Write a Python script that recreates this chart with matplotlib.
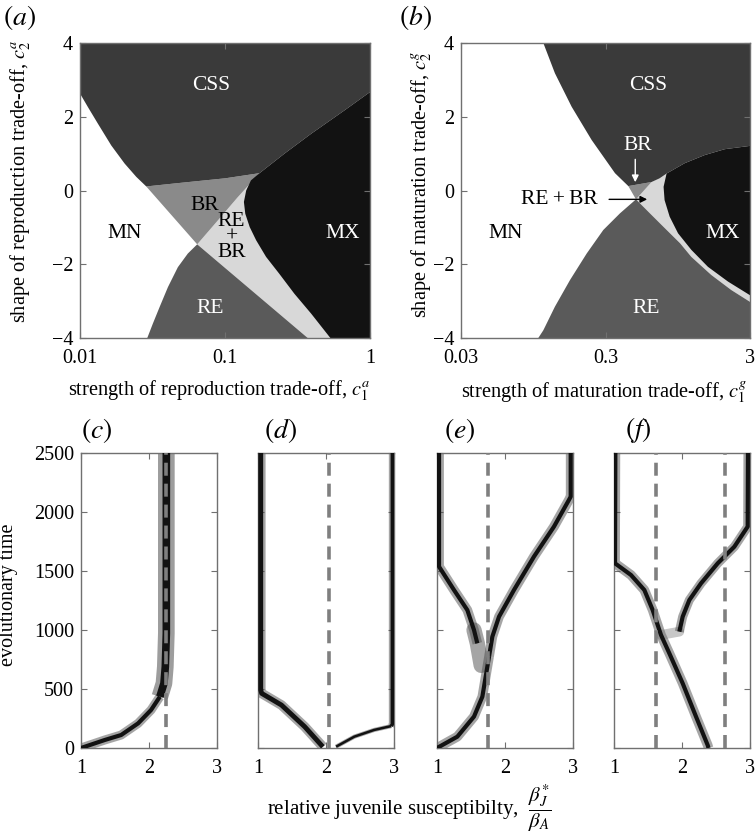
# -*- coding: utf-8 -*-
# trade-off regions and evolutionary branching panels

import numpy as np
import matplotlib
matplotlib.use('Agg')
import matplotlib.pyplot as plt
from matplotlib.ticker import FixedLocator, NullLocator


#%% Data

# panel (a): region boundaries in (c1, c2), c1 on a log axis
A_MN_CSS_X = [0.01, 0.01135, 0.0133, 0.01644, 0.02032, 0.02444, 0.02864]
A_MN_CSS_Y = [2.63, 2.26, 1.81, 1.22, 0.73, 0.37, 0.11]
A_CSS_BOT_X = [0.02864, 0.0473, 0.1, 0.173]
A_CSS_BOT_Y = [0.11, 0.20, 0.33, 0.47]
A_CSS_MX_X = [0.173, 0.257, 0.393, 0.665, 1.0]
A_CSS_MX_Y = [0.47, 1.0, 1.54, 2.17, 2.67]
A_MX_X = [0.173, 0.151, 0.140, 0.135, 0.138, 0.148, 0.164, 0.192, 0.237,
          0.301, 0.393, 0.533]
A_MX_Y = [0.47, 0.275, 0.0, -0.31, -0.63, -0.99, -1.35, -1.80, -2.26,
          -2.80, -3.34, -4.0]
A_BR_LIGHT_X = [0.0643, 0.0893, 0.1225, 0.173]
A_BR_LIGHT_Y = [-1.46, -0.81, -0.18, 0.47]
A_RE_LIGHT_X = [0.0643, 0.372]
A_RE_LIGHT_Y = [-1.46, -4.0]
A_MN_RE_X = [0.0643, 0.0554, 0.0473, 0.0404, 0.0354, 0.0318, 0.0291]
A_MN_RE_Y = [-1.46, -1.71, -2.08, -2.62, -3.16, -3.61, -4.0]

# panel (b)
B_MN_CSS_X = [0.1114, 0.134, 0.175, 0.2405, 0.349, 0.4315]
B_MN_CSS_Y = [4.0, 3.18, 2.27, 1.37, 0.47, 0.12]
B_CSS_BOT_X = [0.4315, 0.625, 0.71, 0.794]
B_CSS_BOT_Y = [0.12, 0.23, 0.33, 0.46]
B_CSS_MX_X = [0.794, 1.059, 1.455, 2.004, 3.0]
B_CSS_MX_Y = [0.46, 0.74, 0.96, 1.12, 1.21]
B_MX_X = [0.794, 0.757, 0.769, 0.834, 0.953, 1.178, 1.535, 2.113, 3.0]
B_MX_Y = [0.46, 0.10, -0.26, -0.71, -1.16, -1.61, -2.07, -2.47, -2.84]
B_BR_LIGHT_X = [0.4875, 0.625, 0.71, 0.794]
B_BR_LIGHT_Y = [-0.24, 0.23, 0.33, 0.46]
B_RE_LIGHT_X = [0.4875, 0.609, 0.753, 0.984, 1.178, 1.618, 2.228, 3.0]
B_RE_LIGHT_Y = [-0.24, -0.62, -0.98, -1.43, -1.80, -2.29, -2.70, -3.02]
B_MN_RE_X = [0.4875, 0.3776, 0.2897, 0.2222, 0.1703, 0.134, 0.1114, 0.1028]
B_MN_RE_Y = [-0.24, -0.62, -1.07, -1.71, -2.43, -3.15, -3.79, -4.0]

# panels (c)-(f): trait paths (relative susceptibility, evolutionary time)
C_X = [1.0, 1.35, 1.59, 1.84, 2.03, 2.16, 2.22, 2.24, 2.255, 2.255]
C_T = [0, 68, 110, 209, 322, 435, 548, 689, 972, 2500]
C_SINGULAR = [2.255]

D_LEFT_X = [1.954, 1.686, 1.345, 1.054, 1.04, 1.04]
D_LEFT_T = [10, 181, 364, 463, 492, 2500]
D_RIGHT_X = [2.148, 2.416, 2.708, 2.96, 2.975, 2.975]
D_RIGHT_T = [11, 96, 153, 186, 200, 2500]
D_SINGULAR = [2.04]

E_TRUNK_X = [1.0, 1.299, 1.544, 1.667, 1.716, 1.765]
E_TRUNK_T = [0, 96, 266, 435, 605, 774]
E_LEFT_X = [1.65, 1.593, 1.544, 1.446, 1.25, 1.03, 1.03]
E_LEFT_T = [700, 887, 1000, 1169, 1339, 1537, 2500]
E_RIGHT_X = [1.765, 1.814, 1.912, 2.132, 2.426, 2.72, 2.94, 2.966, 2.966]
E_RIGHT_T = [774, 944, 1113, 1339, 1622, 1876, 2102, 2130, 2500]
E_SINGULAR = [1.755]

F_MAIN_X = [2.39, 2.377, 2.206, 2.01, 1.814, 1.691, 1.569, 1.446, 1.25,
            1.015, 1.02]
F_MAIN_T = [0, 25, 266, 548, 802, 958, 1169, 1339, 1466, 1565, 2500]
F_RIGHT_X = [1.961, 2.01, 2.108, 2.279, 2.525, 2.77, 2.966, 2.97]
F_RIGHT_T = [986, 1113, 1254, 1395, 1565, 1706, 1876, 2500]
F_SINGULAR = [1.618, 2.632]


#%% Style

plt.rcParams['font.family'] = ['Liberation Serif', 'DejaVu Serif']
plt.rcParams['mathtext.fontset'] = 'stix'

SPINE = '#707070'
COL_CSS = '#3a3a3a'
COL_MX = '#121212'
COL_RE = '#5a5a5a'
COL_BR = '#8a8a8a'
COL_LIGHT = '#d8d8d8'
DASH = '#7f7f7f'

TICK_FS = 14.5
LABEL_FS = 14.7
BOTTOM_LABEL_FS = 15
PANEL_FS = 20
REGION_FS = 15.5


def style_axes(ax):
    for s in ax.spines.values():
        s.set_color(SPINE)
        s.set_linewidth(1.0)
    ax.tick_params(direction='in', length=4, width=0.8, color=SPINE,
                   top=True, right=True, labelsize=TICK_FS, pad=5)
    ax.tick_params(axis='x', pad=8)
    ax.tick_params(which='minor', length=0)


def pts(xs, ys):
    return list(zip(xs, ys))


def draw_regions(ax, mn_css, css_bot, css_mx, mx, br_light, re_light,
                 mn_re, re_extra, xlim):
    xmin, xmax = xlim
    light = (br_light + [(xmax, 4), (xmax, -4)] + re_light[::-1])
    re = mn_re + re_extra + re_light[::-1]
    br = css_bot + br_light[::-1]
    mxp = mx + [(xmax, mx[-1][1])] + css_mx[::-1]
    css = ([(xmax, 4)] + css_mx[::-1] + css_bot[::-1] + mn_css[::-1]
           + [(xmin, 4)])
    for poly, col in [(light, COL_LIGHT), (re, COL_RE), (br, COL_BR),
                      (mxp, COL_MX), (css, COL_CSS)]:
        x, y = zip(*poly)
        ax.fill(x, y, color=col, lw=0, zorder=1)
    ax.set_xscale('log')
    ax.set_xlim(xmin, xmax)
    ax.set_ylim(-4, 4)
    ax.yaxis.set_major_locator(FixedLocator([-4, -2, 0, 2, 4]))
    ax.set_yticklabels(['\u22124', '\u22122', '0', '2', '4'])
    ax.xaxis.set_minor_locator(NullLocator())


def draw_trace(ax, x, t, core=3.0, halo=6.5, halo_alpha=0.5):
    ax.plot(x, t, color='0.3', lw=halo, alpha=halo_alpha,
            solid_capstyle='butt', solid_joinstyle='round', zorder=2)
    ax.plot(x, t, color='0.07', lw=core, solid_capstyle='butt',
            solid_joinstyle='round', zorder=3)


def draw_singular(ax, xs):
    for xv in xs:
        ax.axvline(xv, color=DASH, lw=2.6, dashes=(3.6, 2.2), zorder=4)


#%% Figure

fig = plt.figure(figsize=(7.56, 8.38), dpi=100)

ax_a = fig.add_axes([80 / 756, 1 - 338 / 838, 290 / 756, 295 / 838])
ax_b = fig.add_axes([461 / 756, 1 - 338 / 838, 289 / 756, 295 / 838])

draw_regions(ax_a, pts(A_MN_CSS_X, A_MN_CSS_Y), pts(A_CSS_BOT_X, A_CSS_BOT_Y),
             pts(A_CSS_MX_X, A_CSS_MX_Y), pts(A_MX_X, A_MX_Y),
             pts(A_BR_LIGHT_X, A_BR_LIGHT_Y), pts(A_RE_LIGHT_X, A_RE_LIGHT_Y),
             pts(A_MN_RE_X, A_MN_RE_Y), [], (0.01, 1))
ax_a.xaxis.set_major_locator(FixedLocator([0.01, 0.1, 1]))
ax_a.set_xticklabels(['0.01', '0.1', '1'])
style_axes(ax_a)
ax_a.set_xlabel(r'strength of reproduction trade-off, $c_1^a$',
                fontsize=LABEL_FS)
ax_a.xaxis.set_label_coords(0.48, -0.136)
ax_a.set_ylabel(r'shape of reproduction trade-off, $c_2^a$',
                fontsize=LABEL_FS)
ax_a.yaxis.set_label_coords(-0.162, 0.53)

draw_regions(ax_b, pts(B_MN_CSS_X, B_MN_CSS_Y), pts(B_CSS_BOT_X, B_CSS_BOT_Y),
             pts(B_CSS_MX_X, B_CSS_MX_Y), pts(B_MX_X, B_MX_Y),
             pts(B_BR_LIGHT_X, B_BR_LIGHT_Y), pts(B_RE_LIGHT_X, B_RE_LIGHT_Y),
             pts(B_MN_RE_X, B_MN_RE_Y), [(3.0, -4.0)], (0.03, 3))
ax_b.xaxis.set_major_locator(FixedLocator([0.03, 0.3, 3]))
ax_b.set_xticklabels(['0.03', '0.3', '3'])
style_axes(ax_b)
ax_b.set_xlabel(r'strength of maturation trade-off, $c_1^g$',
                fontsize=LABEL_FS)
ax_b.xaxis.set_label_coords(0.497, -0.142)
ax_b.set_ylabel(r'shape of maturation trade-off, $c_2^g$', fontsize=LABEL_FS)
ax_b.yaxis.set_label_coords(-0.093, 0.52)

# region labels
txt = dict(fontsize=REGION_FS, ha='center', va='center', zorder=6)
ax_a.text(0.080, 2.85, 'CSS', color='white', **txt)
ax_a.text(0.0723, -0.40, 'BR', color='black', **txt)
ax_a.text(0.0203, -1.17, 'MN', color='black', **txt)
ax_a.text(0.111, -1.26, 'RE\n+\nBR', color='black', linespacing=0.78, **txt)
ax_a.text(0.648, -1.17, 'MX', color='white', **txt)
ax_a.text(0.0794, -3.21, 'RE', color='white', **txt)

ax_b.text(0.590, 2.86, 'CSS', color='white', **txt)
ax_b.text(0.0611, -1.16, 'MN', color='black', **txt)
ax_b.text(1.95, -1.16, 'MX', color='white', **txt)
ax_b.text(0.575, -3.2, 'RE', color='white', **txt)
ax_b.text(0.503, 1.21, 'BR', color='white', **txt)
ax_b.annotate('', xy=(0.482, 0.15), xytext=(0.482, 0.92),
              arrowprops=dict(arrowstyle='-|>', color='white', lw=1.0,
                              mutation_scale=10), zorder=6)
ax_b.text(0.1445, -0.24, 'RE\u2009+\u2009BR', color='black', **txt)
ax_b.annotate('', xy=(0.609, -0.24), xytext=(0.304, -0.24),
              arrowprops=dict(arrowstyle='-|>', color='black', lw=1.0,
                              mutation_scale=10), zorder=6)

# bottom panels
lefts = [81, 258, 437, 614]
axs = [fig.add_axes([l / 756, 1 - 748 / 838, 136 / 756, 295 / 838])
       for l in lefts]
for i, ax in enumerate(axs):
    ax.set_xlim(1, 3)
    ax.set_ylim(0, 2500)
    ax.xaxis.set_major_locator(FixedLocator([1, 2, 3]))
    ax.yaxis.set_major_locator(FixedLocator([0, 500, 1000, 1500, 2000, 2500]))
    style_axes(ax)
    if i > 0:
        ax.set_yticklabels([])

ax_c, ax_d, ax_e, ax_f = axs

draw_trace(ax_c, C_X[:6], C_T[:6], core=3.0, halo=6.5)
draw_trace(ax_c, C_X[5:], C_T[5:], core=5.5, halo=12.0, halo_alpha=0.55)
draw_singular(ax_c, C_SINGULAR)

draw_trace(ax_d, D_LEFT_X, D_LEFT_T, core=3.5, halo=7.0)
draw_trace(ax_d, D_RIGHT_X[:4], D_RIGHT_T[:4], core=1.8, halo=3.0)
draw_trace(ax_d, D_RIGHT_X[3:], D_RIGHT_T[3:], core=2.5, halo=5.0)
draw_singular(ax_d, D_SINGULAR)

draw_trace(ax_e, E_TRUNK_X, E_TRUNK_T, core=3.0, halo=7.0)
# diffuse cloud where the lineage splits
ax_e.plot(E_LEFT_X[:3], E_LEFT_T[:3], color='0.3', lw=11, alpha=0.5,
          solid_capstyle='round', zorder=2)
draw_trace(ax_e, E_LEFT_X[1:], E_LEFT_T[1:], core=3.0, halo=7.0)
draw_trace(ax_e, E_RIGHT_X, E_RIGHT_T, core=3.0, halo=7.0)
draw_singular(ax_e, E_SINGULAR)

draw_trace(ax_f, F_MAIN_X, F_MAIN_T, core=3.0, halo=7.0)
ax_f.plot([F_MAIN_X[5], F_RIGHT_X[0]], [F_MAIN_T[5], F_RIGHT_T[0]],
          color='0.45', lw=7, alpha=0.4, solid_capstyle='round', zorder=2)
draw_trace(ax_f, F_RIGHT_X, F_RIGHT_T, core=3.0, halo=6.5)
draw_singular(ax_f, F_SINGULAR)

ax_c.set_ylabel('evolutionary time', fontsize=14.5)
ax_c.yaxis.set_label_coords(-0.463, 0.52)

fig.text(409 / 756, 1 - 808 / 838,
         r'relative juvenile susceptibilty,  $\dfrac{\beta_J^{*}}{\beta_A}$',
         fontsize=BOTTOM_LABEL_FS, ha='center', va='center')

# panel letters
for lab, (px, py) in zip('abcdef', [(20, 18), (415, 18), (97, 430),
                                     (280, 430), (460, 430), (638, 430)]):
    fig.text(px / 756, 1 - py / 838, '$(%s)$' % lab, fontsize=PANEL_FS,
             ha='center', va='center')

plt.savefig('out.png', dpi=100)
